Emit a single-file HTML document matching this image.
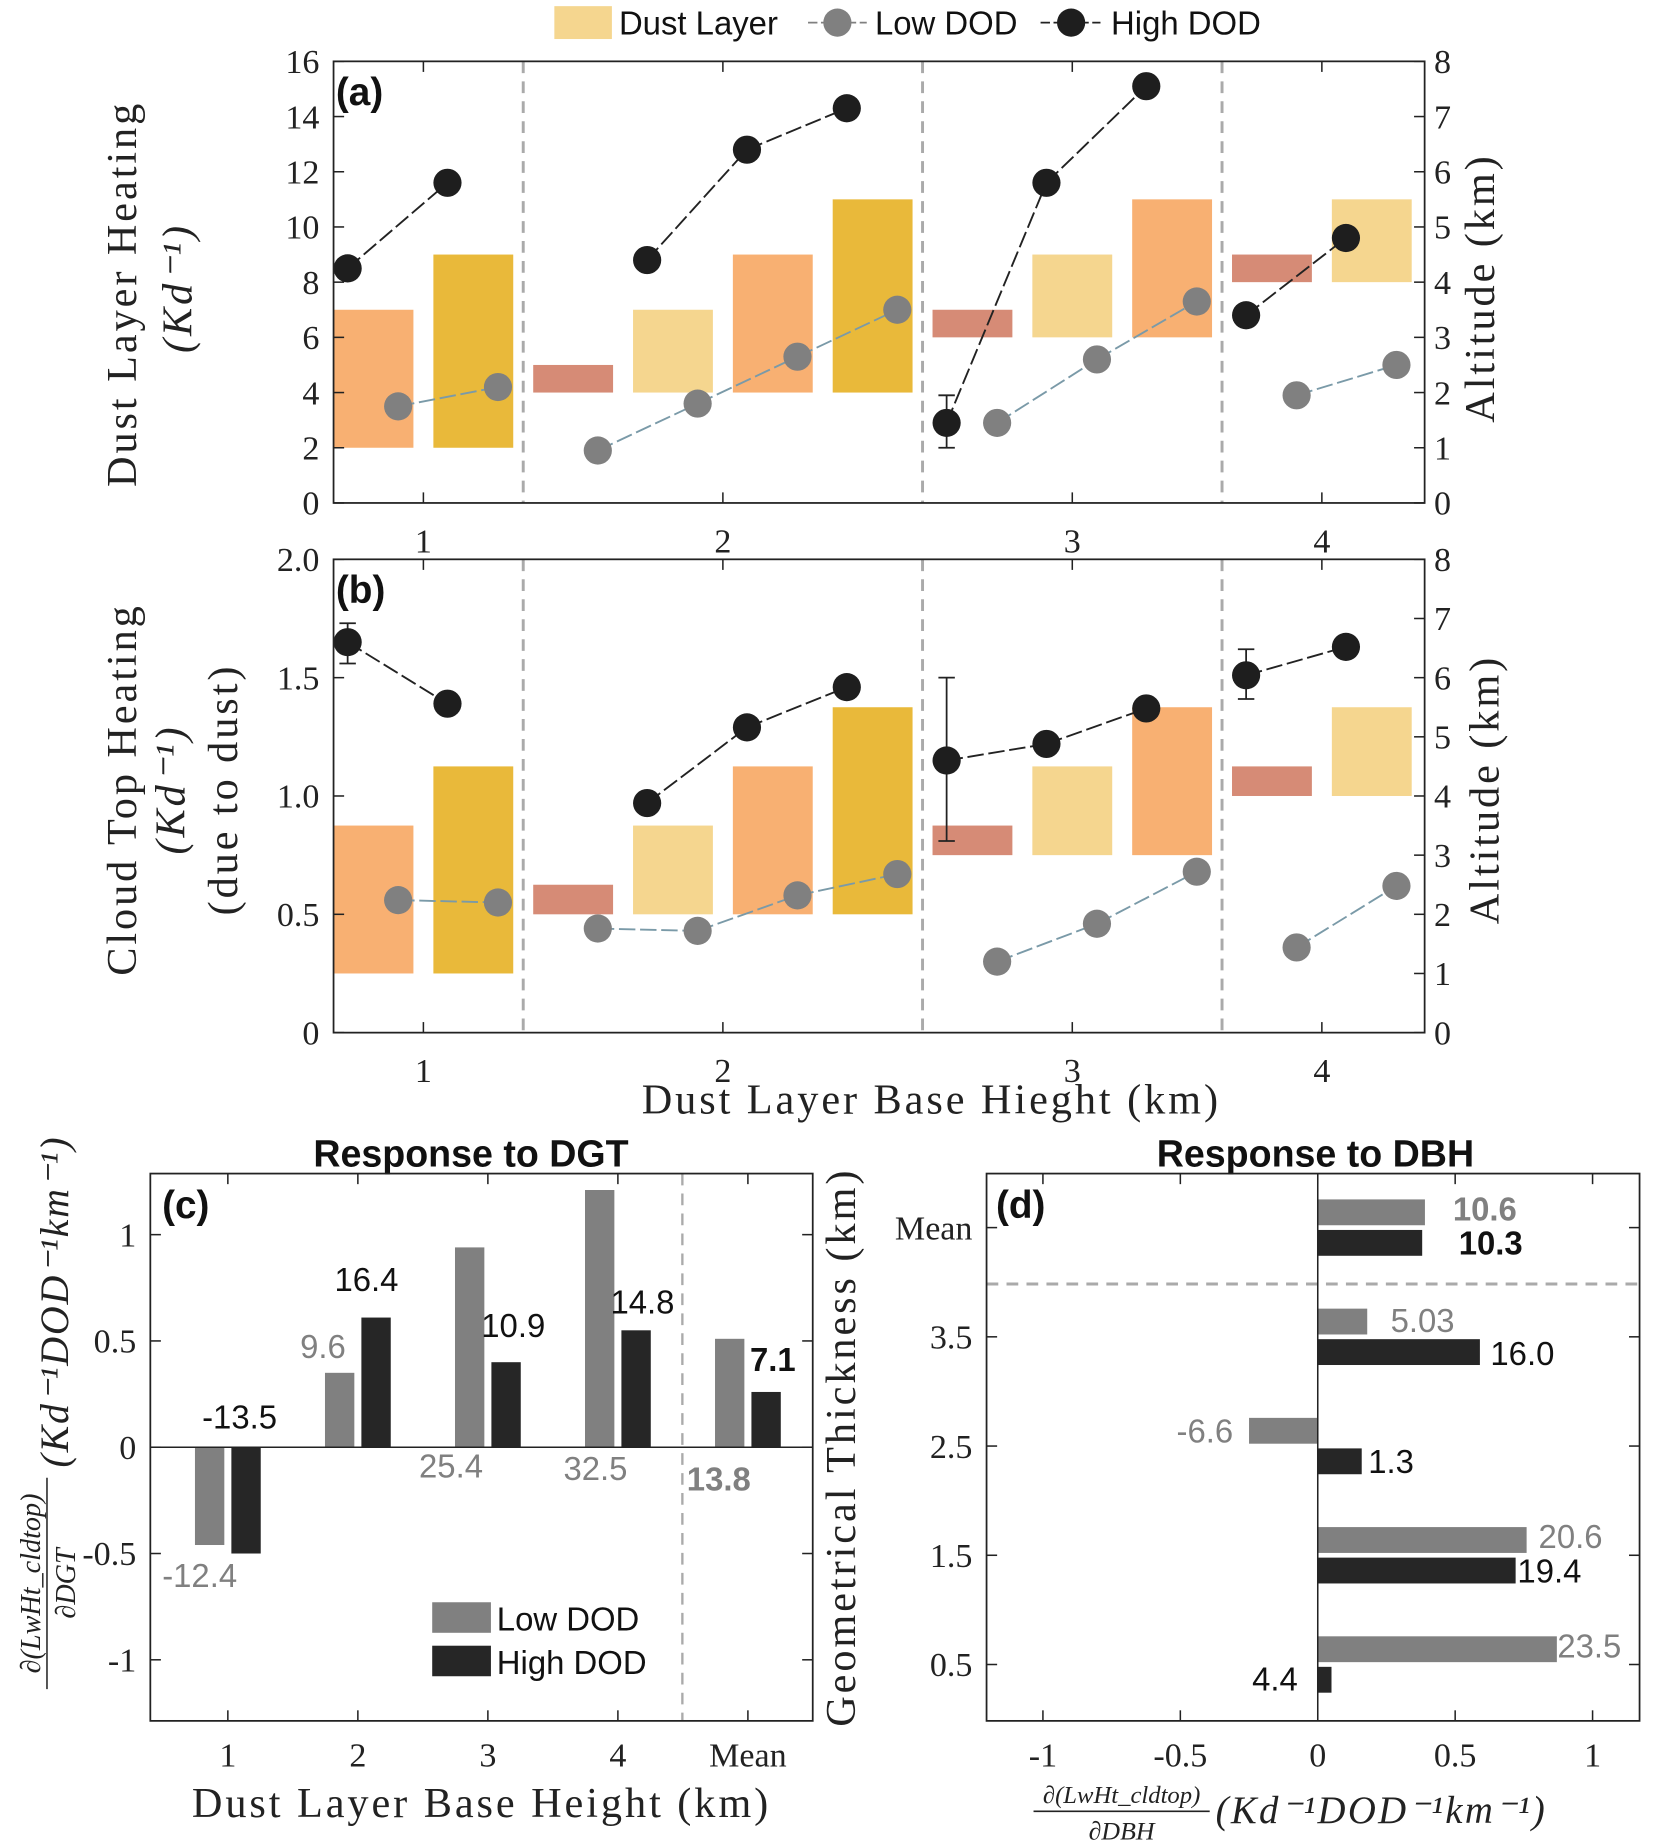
<!DOCTYPE html>
<html><head><meta charset="utf-8">
<style>
html,body{margin:0;padding:0;background:#fff;}
svg{display:block;}
.tk{font-family:"Liberation Serif",serif;font-size:29px;fill:#222;}
.ttl{font-family:"Liberation Serif",serif;font-size:36px;fill:#222;letter-spacing:2.5px;}
.sans{font-family:"Liberation Sans",sans-serif;}
</style></head>
<body>
<svg id="fig" width="1656" height="1848" viewBox="0 0 1410 1573" xmlns="http://www.w3.org/2000/svg">
<g id="root"></g>
</svg>
<script>
// ===== Data =====
const groupBase = [1, 2, 3, 4];
const groupLabels = ["1", "2", "3", "4"];
const slotGroup = [0,0,1,1,1,1,2,2,2,3,3];
const slotThick = [2.5,3.5,0.5,1.5,2.5,3.5,0.5,1.5,2.5,0.5,1.5];
const highSlots = [0,1,3,4,5,6,7,8,9,10];
const lowSlots = [0,1,2,3,4,5,6,7,8,9,10];
const highA = [8.5,11.6,8.8,12.8,14.3,2.9,11.6,15.1,6.8,9.6];
const highAErrLo = [null,null,null,null,null,2.0,null,null,null,null];
const highAErrHi = [null,null,null,null,null,3.9,null,null,null,null];
const lowA = [3.5,4.2,1.9,3.6,5.3,7.0,2.9,5.2,7.3,3.9,5.0];
const highB = [1.65,1.39,0.97,1.29,1.46,1.15,1.22,1.37,1.51,1.63];
const highBErrLo = [1.56,null,null,null,null,0.81,null,null,1.41,null];
const highBErrHi = [1.73,null,null,null,null,1.50,null,null,1.62,null];
const lowB = [0.56,0.55,0.44,0.43,0.58,0.67,0.30,0.46,0.68,0.36,0.62];
const cCats = ["1","2","3","4","Mean"];
const cLow = [-0.46,0.35,0.94,1.21,0.51];
const cHigh = [-0.50,0.61,0.40,0.55,0.26];
const cLowLbl = ["-12.4","9.6","25.4","32.5","13.8"];
const cHighLbl = ["-13.5","16.4","10.9","14.8","7.1"];
const cTicks = [-1,-0.5,0,0.5,1];
const dCats = ["Mean","3.5","2.5","1.5","0.5"];
const dLow = [0.39,0.18,-0.25,0.76,0.87];
const dHigh = [0.38,0.59,0.16,0.72,0.05];
const dLowLbl = ["10.6","5.03","-6.6","20.6","23.5"];
const dHighLbl = ["10.3","16.0","1.3","19.4","4.4"];
const dTicks = [-1,-0.5,0,0.5,1];

// ===== helpers =====
const NS="http://www.w3.org/2000/svg";
const root=document.getElementById('root');
function mk(tag,attrs,parent,txt){const e=document.createElementNS(NS,tag);for(const k in attrs)e.setAttribute(k,attrs[k]);if(txt!==undefined)e.textContent=txt;(parent||root).appendChild(e);return e;}
const thickColor=t=>t===0.5?"#D68B76":t===1.5?"#F5D68F":t===2.5?"#F8B072":"#E9B93A";
const slotX=i=>318+85*i;
const axL=284, axR=1213;

function panelAB(top,bot,leftMax,leftTicks,leftFmt,high,hLo,hHi,low,tag){
  const yL=v=>bot-(v/leftMax)*(bot-top);
  const yR=v=>bot-(v/8)*(bot-top);
  const g=mk('g',{});
  
  
  slotThick.forEach((t,i)=>{
    const b=groupBase[slotGroup[i]];
    const r=mk('rect',{x:slotX(i)-34,y:yR(b+t),width:68,height:yR(b)-yR(b+t),fill:thickColor(t)},g);
    
    
  });
  [1.5,5.5,8.5].forEach(s=>{mk('line',{x1:slotX(s),x2:slotX(s),y1:top,y2:bot,stroke:"#aaa","stroke-width":2.5,"stroke-dasharray":"10,7"},g);});
  function series(slots,vals,off,col,lineCol,name,elo,ehi){
    for(let k=0;k<slots.length-1;k++){
      if(slotGroup[slots[k]]===slotGroup[slots[k+1]]){
        mk('line',{x1:slotX(slots[k])+off,y1:yL(vals[k]),x2:slotX(slots[k+1])+off,y2:yL(vals[k+1]),stroke:lineCol,"stroke-width":1.6,"stroke-dasharray":"14,4"},g);
      }
    }
    slots.forEach((s,k)=>{
      const x=slotX(s)+off;
      if(elo&&elo[k]!=null){
        mk('line',{x1:x,x2:x,y1:yL(elo[k]),y2:yL(ehi[k]),stroke:"#222","stroke-width":1.5},g);
        mk('line',{x1:x-7,x2:x+7,y1:yL(elo[k]),y2:yL(elo[k]),stroke:"#222","stroke-width":1.5},g);
        mk('line',{x1:x-7,x2:x+7,y1:yL(ehi[k]),y2:yL(ehi[k]),stroke:"#222","stroke-width":1.5},g);
      }
      const c=mk('circle',{cx:x,cy:yL(vals[k]),r:12,fill:col},g);
      
      
    });
  }
  series(lowSlots,low,21,"#808080","#7a9aa8","low-dod");
  series(highSlots,high,-22,"#1e1e1e","#222","high-dod",hLo,hHi);
  mk('rect',{x:axL,y:top,width:axR-axL,height:bot-top,fill:"none",stroke:"#222","stroke-width":1.5},g);
  leftTicks.forEach(v=>{
    mk('line',{x1:axL,x2:axL+9,y1:yL(v),y2:yL(v),stroke:"#222","stroke-width":1.3},g);
    mk('text',{x:axL-12,y:yL(v)+10,"text-anchor":"end",class:"tk"},g,leftFmt(v));
  });
  for(let v=0;v<=8;v++){
    mk('line',{x1:axR,x2:axR-9,y1:yR(v),y2:yR(v),stroke:"#222","stroke-width":1.3},g);
    mk('text',{x:axR+8,y:yR(v)+10,class:"tk"},g,String(v));
  }
  groupBase.forEach((b,gi)=>{
    const sl=slotGroup.map((x,i)=>x===gi?i:-1).filter(i=>i>=0);
    const cx=(slotX(sl[0])+slotX(sl[sl.length-1]))/2;
    mk('line',{x1:cx,x2:cx,y1:bot,y2:bot-9,stroke:"#222","stroke-width":1.3},g);
    mk('line',{x1:cx,x2:cx,y1:top,y2:top+9,stroke:"#222","stroke-width":1.3},g);
    mk('text',{x:cx,y:bot+42,"text-anchor":"middle",class:"tk"},g,groupLabels[gi]);
  });
  mk('text',{x:286,y:top+37,class:"sans","font-size":33,"font-weight":"bold",fill:"#111"},g,"("+tag+")");
}
panelAB(52,428,16,[0,2,4,6,8,10,12,14,16],v=>String(v),highA,highAErrLo,highAErrHi,lowA,"a");
panelAB(476,879,2,[0,0.5,1,1.5,2],v=>v===0?"0":v.toFixed(1),highB,highBErrLo,highBErrHi,lowB,"b");

// top legend
mk('rect',{x:472,y:5,width:49,height:28,fill:"#F5D68F"});
mk('text',{x:527,y:29,class:"sans","font-size":28,fill:"#111"},root,"Dust Layer");
mk('line',{x1:688,x2:738,y1:19,y2:19,stroke:"#808080","stroke-width":1.5,"stroke-dasharray":"8,3"});
mk('circle',{cx:713,cy:19,r:12,fill:"#808080"});
mk('text',{x:745,y:29,class:"sans","font-size":28,fill:"#111"},root,"Low DOD");
mk('line',{x1:886,x2:937,y1:19,y2:19,stroke:"#222","stroke-width":1.5,"stroke-dasharray":"8,3"});
mk('circle',{cx:912,cy:19,r:12,fill:"#1e1e1e"});
mk('text',{x:946,y:29,class:"sans","font-size":28,fill:"#111"},root,"High DOD");

// axis titles a,b
mk('text',{transform:"translate(116,250) rotate(-90)","text-anchor":"middle",class:"ttl"},root,"Dust Layer Heating");
mk('text',{transform:"translate(163,245) rotate(-90)","text-anchor":"middle",class:"ttl","font-style":"italic"},root,"(Kd⁻¹)");
mk('text',{transform:"translate(1272,245) rotate(-90)","text-anchor":"middle",class:"ttl"},root,"Altitude (km)");
mk('text',{transform:"translate(116,672) rotate(-90)","text-anchor":"middle",class:"ttl"},root,"Cloud Top Heating");
mk('text',{transform:"translate(157,672) rotate(-90)","text-anchor":"middle",class:"ttl","font-style":"italic"},root,"(Kd⁻¹)");
mk('text',{transform:"translate(202,672) rotate(-90)","text-anchor":"middle",class:"ttl"},root,"(due to dust)");
mk('text',{transform:"translate(1276,672) rotate(-90)","text-anchor":"middle",class:"ttl"},root,"Altitude (km)");
mk('text',{x:793,y:948,"text-anchor":"middle",class:"ttl"},root,"Dust Layer Base Hieght (km)");

// ===== panel c =====
(function(){
  const L=128,R=692,T=999,B=1465;
  const y=v=>1232-v*181;
  const xc=i=>194+110.7*i;
  mk('text',{x:401,y:993,"text-anchor":"middle",class:"sans","font-size":32,"font-weight":"bold",fill:"#111"},root,"Response to DGT");
  mk('line',{x1:581,x2:581,y1:T,y2:B,stroke:"#aaa","stroke-width":2,"stroke-dasharray":"10,7"});
  cCats.forEach((c,i)=>{
    const lv=cLow[i],hv=cHigh[i];
    const r1=mk('rect',{x:xc(i)-28,y:Math.min(y(0),y(lv)),width:25,height:Math.abs(y(lv)-y(0)),fill:"#808080"});
    
    
    const r2=mk('rect',{x:xc(i)+3,y:Math.min(y(0),y(hv)),width:25,height:Math.abs(y(hv)-y(0)),fill:"#262626"});
    
    
    mk('line',{x1:xc(i),x2:xc(i),y1:B,y2:B-9,stroke:"#222","stroke-width":1.3});
    mk('line',{x1:xc(i),x2:xc(i),y1:T,y2:T+9,stroke:"#222","stroke-width":1.3});
    mk('text',{x:xc(i),y:B+39,"text-anchor":"middle",class:"tk"},root,c);
  });
  const bold=i=>i===4?"bold":"normal";
  const hPos=[[204,1216],[312,1099],[437,1138],[547,1118],[658,1167]];
  const lPos=[[170,1351],[275,1156],[384,1258],[507,1260],[612,1269]];
  cHighLbl.forEach((t,i)=>mk('text',{x:hPos[i][0],y:hPos[i][1],"text-anchor":"middle",class:"sans","font-size":28,"font-weight":bold(i),fill:"#111"},root,t));
  cLowLbl.forEach((t,i)=>mk('text',{x:lPos[i][0],y:lPos[i][1],"text-anchor":"middle",class:"sans","font-size":28,"font-weight":bold(i),fill:"#808080"},root,t));
  mk('line',{x1:L,x2:R,y1:y(0),y2:y(0),stroke:"#222","stroke-width":1.3});
  mk('rect',{x:L,y:T,width:R-L,height:B-T,fill:"none",stroke:"#222","stroke-width":1.5});
  cTicks.forEach(v=>{
    mk('line',{x1:L,x2:L+9,y1:y(v),y2:y(v),stroke:"#222","stroke-width":1.3});
    mk('line',{x1:R,x2:R-9,y1:y(v),y2:y(v),stroke:"#222","stroke-width":1.3});
    mk('text',{x:L-12,y:y(v)+10,"text-anchor":"end",class:"tk"},root,String(v));
  });
  mk('text',{x:138,y:1037,class:"sans","font-size":33,"font-weight":"bold",fill:"#111"},root,"(c)");
  mk('rect',{x:368,y:1364,width:50,height:26,fill:"#808080"});
  mk('rect',{x:368,y:1401,width:50,height:26,fill:"#262626"});
  mk('text',{x:423,y:1388,class:"sans","font-size":28,fill:"#111"},root,"Low DOD");
  mk('text',{x:423,y:1425,class:"sans","font-size":28,fill:"#111"},root,"High DOD");
  mk('text',{x:410,y:1547,"text-anchor":"middle",class:"ttl"},root,"Dust Layer Base Height (km)");
  const yl=mk('g',{transform:"translate(20,1220) rotate(-90)"});
  mk('text',{x:-128,y:14,"text-anchor":"middle",class:"ttl",style:"font-size:24px;letter-spacing:0;font-style:italic"},yl,"∂(LwHt_cldtop)");
  mk('line',{x1:-218,x2:-38,y1:20,y2:20,stroke:"#222","stroke-width":1.3},yl);
  mk('text',{x:-128,y:44,"text-anchor":"middle",class:"ttl",style:"font-size:24px;letter-spacing:0;font-style:italic"},yl,"∂DGT");
  mk('text',{x:112,y:38,"text-anchor":"middle",class:"ttl",style:"font-size:34px;font-style:italic;letter-spacing:1.5px"},yl,"(Kd⁻¹DOD⁻¹km⁻¹)");
})();

// ===== panel d =====
(function(){
  const L=840,R=1396,T=999,B=1465;
  const x=v=>1122+v*234;
  const yc=i=>1045+93*i;
  mk('text',{x:1120,y:993,"text-anchor":"middle",class:"sans","font-size":32,"font-weight":"bold",fill:"#111"},root,"Response to DBH");
  mk('line',{x1:L,x2:R,y1:1093,y2:1093,stroke:"#aaa","stroke-width":2.5,"stroke-dasharray":"10,7"});
  dCats.forEach((c,i)=>{
    const lv=dLow[i],hv=dHigh[i];
    const r1=mk('rect',{x:Math.min(x(0),x(lv)),y:yc(i)-24,width:Math.abs(x(lv)-x(0)),height:22,fill:"#808080"});
    
    
    const r2=mk('rect',{x:Math.min(x(0),x(hv)),y:yc(i)+2,width:Math.abs(x(hv)-x(0)),height:22,fill:"#262626"});
    
    
    mk('line',{x1:L,x2:L+9,y1:yc(i),y2:yc(i),stroke:"#222","stroke-width":1.3});
    mk('line',{x1:R,x2:R-9,y1:yc(i),y2:yc(i),stroke:"#222","stroke-width":1.3});
    mk('text',{x:L-12,y:yc(i)+10,"text-anchor":"end",class:"tk"},root,c);
  });
  const bold=i=>i===0?"bold":"normal";
  const lPos=[[1237,1039,"start"],[1184,1134,"start"],[1050,1228,"end"],[1310,1318,"start"],[1326,1411,"start"]];
  const hPos=[[1242,1068,"start"],[1269,1162,"start"],[1165,1254,"start"],[1292,1347,"start"],[1105,1439,"end"]];
  dLowLbl.forEach((t,i)=>mk('text',{x:lPos[i][0],y:lPos[i][1],"text-anchor":lPos[i][2],class:"sans","font-size":28,"font-weight":bold(i),fill:"#808080"},root,t));
  dHighLbl.forEach((t,i)=>mk('text',{x:hPos[i][0],y:hPos[i][1],"text-anchor":hPos[i][2],class:"sans","font-size":28,"font-weight":bold(i),fill:"#111"},root,t));
  mk('line',{x1:x(0),x2:x(0),y1:T,y2:B,stroke:"#222","stroke-width":1.3});
  mk('rect',{x:L,y:T,width:R-L,height:B-T,fill:"none",stroke:"#222","stroke-width":1.5});
  dTicks.forEach(v=>{
    mk('line',{x1:x(v),x2:x(v),y1:B,y2:B-9,stroke:"#222","stroke-width":1.3});
    mk('line',{x1:x(v),x2:x(v),y1:T,y2:T+9,stroke:"#222","stroke-width":1.3});
    mk('text',{x:x(v),y:B+39,"text-anchor":"middle",class:"tk"},root,String(v));
  });
  mk('text',{x:848,y:1037,class:"sans","font-size":33,"font-weight":"bold",fill:"#111"},root,"(d)");
  mk('text',{transform:"translate(728,1232) rotate(-90)","text-anchor":"middle",class:"ttl"},root,"Geometrical Thickness (km)");
  mk('text',{x:955,y:1535,"text-anchor":"middle",class:"ttl",style:"font-size:21px;letter-spacing:0;font-style:italic"},root,"∂(LwHt_cldtop)");
  mk('line',{x1:880,x2:1030,y1:1542,y2:1542,stroke:"#222","stroke-width":1.3});
  mk('text',{x:955,y:1566,"text-anchor":"middle",class:"ttl",style:"font-size:22px;letter-spacing:0;font-style:italic"},root,"∂DBH");
  mk('text',{x:1035,y:1552,class:"ttl",style:"font-size:33px;font-style:italic;letter-spacing:2px"},root,"(Kd⁻¹DOD⁻¹km⁻¹)");
})();
</script>
</body></html>
